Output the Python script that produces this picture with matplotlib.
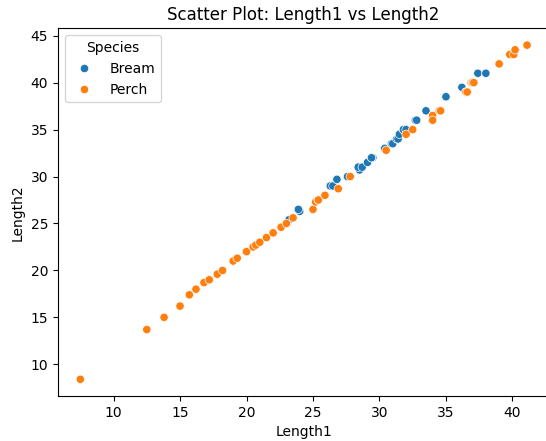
import matplotlib
matplotlib.use("Agg")
import matplotlib.pyplot as plt
import pandas as pd
import seaborn as sns

# Fish data: Bream and Perch lengths
bream_length1 = [23.2, 24, 23.9, 26.3, 26.5, 26.8, 26.8, 27.6, 27.6, 28.5, 28.4, 28.7,
                 29.1, 29.5, 29.4, 29.4, 30.4, 30.4, 30.9, 31, 31.3, 31.4, 31.5, 31.8,
                 31.9, 31.8, 32, 32.7, 32.8, 33.5, 35, 35, 36.2, 37.4, 38]
bream_length2 = [25.4, 26.3, 26.5, 29, 29, 29.7, 29.7, 30, 30, 30.7, 31, 31,
                 31.5, 32, 32, 32, 33, 33, 33.5, 33.5, 34, 34, 34.5, 35,
                 35, 35, 35, 36, 36, 37, 38.5, 38.5, 39.5, 41, 41]
perch_length1 = [7.5, 12.5, 13.8, 15, 15.7, 16.2, 16.8, 17.2, 17.8, 18.2, 19, 19,
                 19, 19.3, 20, 20, 20, 20, 20, 20.5, 20.5, 20.7, 21, 21.5,
                 22, 22, 22.6, 23, 23.5, 25, 25.2, 25.4, 25.4, 25.4, 25.9, 26.9,
                 27.8, 30.5, 32, 32.5, 34, 34, 34.5, 34.6, 36.5, 36.5, 36.6, 36.9,
                 37, 37, 37.1, 39, 39.8, 40.1, 40.2, 41.1]
perch_length2 = [8.4, 13.7, 15, 16.2, 17.4, 18, 18.7, 19, 19.6, 20, 21, 21,
                 21, 21.3, 22, 22, 22, 22, 22, 22.5, 22.5, 22.7, 23, 23.5,
                 24, 24, 24.6, 25, 25.6, 26.5, 27.3, 27.5, 27.5, 27.5, 28, 28.7,
                 30, 32.8, 34.5, 35, 36.5, 36, 37, 37, 39, 39, 39, 40,
                 40, 40, 40, 42, 43, 43, 43.5, 44]

df = pd.DataFrame({
    "Length1": bream_length1 + perch_length1,
    "Length2": bream_length2 + perch_length2,
    "Species": ["Bream"] * len(bream_length1) + ["Perch"] * len(perch_length1),
})

fig = plt.figure(figsize=(5.46, 4.41), dpi=100)
# the original was cropped just inside the right spine
ax = fig.add_axes([0.1062, 0.102, 0.900, 0.8336])
sns.scatterplot(data=df, x="Length1", y="Length2", hue="Species", ax=ax)
ax.set_title("Scatter Plot: Length1 vs Length2")

fig.savefig("out.png", dpi=100)
